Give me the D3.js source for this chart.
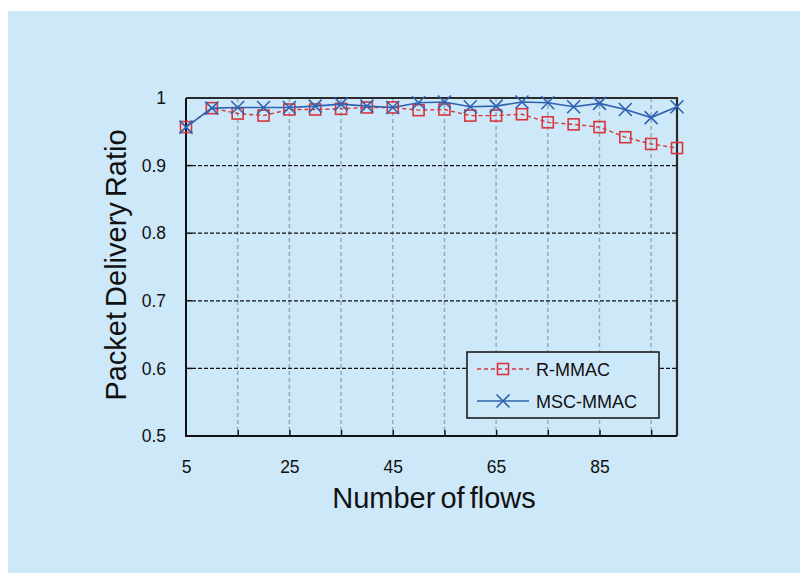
<!DOCTYPE html>
<html>
<head>
<meta charset="utf-8">
<script src="https://cdn.jsdelivr.net/npm/d3@7"></script>
<style>
	html, body { margin: 0; padding: 0; background: #ffffff; }
	svg { display: block; font-family: "Liberation Sans", Arial, sans-serif; }
</style>
</head>
<body>
<div id="chart"></div>
<script>
// ── Data ─────────────────────────────────────────────────────────────────
const flows = [5, 10, 15, 20, 25, 30, 35, 40, 45, 50, 55, 60, 65, 70, 75, 80, 85, 90, 95, 100];
const rMmac = [0.957, 0.985, 0.977, 0.974, 0.983, 0.983, 0.984, 0.986, 0.986, 0.982,
	0.983, 0.974, 0.974, 0.976, 0.964, 0.961, 0.957, 0.942, 0.932, 0.926];
const mscMmac = [0.957, 0.985, 0.986, 0.986, 0.986, 0.988, 0.991, 0.988, 0.986, 0.993,
	0.994, 0.987, 0.988, 0.994, 0.993, 0.987, 0.992, 0.983, 0.971, 0.987];
const seriesNames = ['R-MMAC', 'MSC-MMAC'];
const xTickValues = [15, 25, 35, 45, 55, 65, 75, 85, 95];
const xLabelValues = [5, 25, 45, 65, 85];
const yTickValues = [0.5, 0.6, 0.7, 0.8, 0.9, 1];

// ── Layout ───────────────────────────────────────────────────────────────
const WIDTH = 800;
const HEIGHT = 573;
const PLOT = {left: 186, right: 677, top: 98, bottom: 436};
const RED = '#d8363c';
const BLUE = '#2f63b2';

const svg = d3.select('#chart')
	.append('svg')
	.attr('width', WIDTH)
	.attr('height', HEIGHT);

// light blue panel
svg.append('rect')
	.attr('x', 8).attr('y', 11)
	.attr('width', WIDTH - 8).attr('height', HEIGHT - 11)
	.attr('fill', '#cde8f8');

const xScale = d3.scaleLinear().domain([5, 100]).range([PLOT.left, PLOT.right]);
const yScale = d3.scaleLinear().domain([0.5, 1]).range([PLOT.bottom, PLOT.top]);

// ── Grid ─────────────────────────────────────────────────────────────────
svg.append('g')
	.selectAll('line')
	.data(xTickValues)
	.join('line')
	.attr('x1', (d) => xScale(d)).attr('x2', (d) => xScale(d))
	.attr('y1', PLOT.top).attr('y2', PLOT.bottom - 6)
	.attr('stroke', '#9aaab4')
	.attr('stroke-width', 1.5)
	.attr('stroke-dasharray', '4,3');

svg.append('g')
	.selectAll('line')
	.data(yTickValues.filter((d) => d > 0.5 && d < 1))
	.join('line')
	.attr('x1', PLOT.left + 6).attr('x2', PLOT.right)
	.attr('y1', (d) => yScale(d)).attr('y2', (d) => yScale(d))
	.attr('stroke', '#111')
	.attr('stroke-width', 1.3)
	.attr('stroke-dasharray', '4,2');

// ── Axes ─────────────────────────────────────────────────────────────────
const xAxis = d3.axisBottom(xScale)
	.tickValues(xTickValues)
	.tickSize(-6)
	.tickFormat('');
svg.append('g')
	.attr('transform', `translate(0, ${PLOT.bottom})`)
	.call(xAxis)
	.call((g) => g.select('.domain').remove())
	.call((g) => g.selectAll('.tick line').attr('stroke', '#111').attr('stroke-width', 1.5));

const xLabels = d3.axisBottom(xScale)
	.tickValues(xLabelValues)
	.tickSize(0)
	.tickPadding(25)
	.tickFormat(d3.format('d'));
svg.append('g')
	.attr('transform', `translate(0, ${PLOT.bottom})`)
	.call(xLabels)
	.call((g) => g.select('.domain').remove())
	.call((g) => g.selectAll('text').attr('font-size', 17.5).attr('fill', '#111').attr('font-family', null));

const yAxis = d3.axisLeft(yScale)
	.tickValues(yTickValues)
	.tickSize(0)
	.tickPadding(20)
	.tickFormat((d) => (d === 1 ? '1' : d3.format('.1f')(d)));
svg.append('g')
	.attr('transform', `translate(${PLOT.left}, 0)`)
	.call(yAxis)
	.call((g) => g.select('.domain').remove())
	.call((g) => g.selectAll('text').attr('font-size', 17.5).attr('fill', '#111').attr('font-family', null));

svg.append('g')
	.selectAll('line')
	.data(yTickValues.filter((d) => d > 0.5 && d < 1))
	.join('line')
	.attr('x1', PLOT.left).attr('x2', PLOT.left + 6)
	.attr('y1', (d) => yScale(d)).attr('y2', (d) => yScale(d))
	.attr('stroke', '#111')
	.attr('stroke-width', 1.5);

// frame: left and bottom black, top and right dark
svg.append('path')
	.attr('d', `M${PLOT.left},${PLOT.top}V${PLOT.bottom}H${PLOT.right}`)
	.attr('fill', 'none').attr('stroke', '#111').attr('stroke-width', 2);
svg.append('path')
	.attr('d', `M${PLOT.left},${PLOT.top}H${PLOT.right}V${PLOT.bottom}`)
	.attr('fill', 'none').attr('stroke', '#2a2a2a').attr('stroke-width', 2.2);

// ── Axis titles ──────────────────────────────────────────────────────────
svg.append('text')
	.attr('x', 434)
	.attr('y', 508)
	.attr('text-anchor', 'middle')
	.attr('font-size', 29)
	.attr('word-spacing', -3)
	.attr('fill', '#111')
	.text('Number of flows');

svg.append('text')
	.attr('transform', `translate(126, 265) rotate(-90)`)
	.attr('text-anchor', 'middle')
	.attr('font-size', 29)
	.attr('word-spacing', -3)
	.attr('fill', '#111')
	.text('Packet Delivery Ratio');

// ── Series ───────────────────────────────────────────────────────────────
const line = d3.line()
	.x((d) => xScale(d[0]))
	.y((d) => yScale(d[1]));

const redPoints = flows.map((f, i) => [f, rMmac[i]]);
const bluePoints = flows.map((f, i) => [f, mscMmac[i]]);

svg.append('path')
	.datum(redPoints)
	.attr('d', line)
	.attr('fill', 'none')
	.attr('stroke', RED)
	.attr('stroke-width', 1.4)
	.attr('stroke-dasharray', '4,3');

svg.append('g')
	.selectAll('rect')
	.data(redPoints)
	.join('rect')
	.attr('x', (d) => xScale(d[0]) - 5.5)
	.attr('y', (d) => yScale(d[1]) - 5.5)
	.attr('width', 11).attr('height', 11)
	.attr('fill', 'none')
	.attr('stroke', RED)
	.attr('stroke-width', 1.6);

svg.append('path')
	.datum(bluePoints)
	.attr('d', line)
	.attr('fill', 'none')
	.attr('stroke', BLUE)
	.attr('stroke-width', 1.6);

const crossPath = (cx, cy, r) => `M${cx - r},${cy - r}L${cx + r},${cy + r}M${cx - r},${cy + r}L${cx + r},${cy - r}`;

svg.append('g')
	.selectAll('path')
	.data(bluePoints)
	.join('path')
	.attr('d', (d) => crossPath(xScale(d[0]), yScale(d[1]), 6.5))
	.attr('fill', 'none')
	.attr('stroke', BLUE)
	.attr('stroke-width', 1.6);

// ── Legend ───────────────────────────────────────────────────────────────
const legend = svg.append('g').attr('transform', 'translate(467, 352)');
legend.append('rect')
	.attr('width', 192).attr('height', 66)
	.attr('fill', '#cde8f8')
	.attr('stroke', '#111')
	.attr('stroke-width', 1.5);

seriesNames.forEach((name, i) =>
{
	const rowY = 17 + i * 32;
	const isRed = i === 0;
	legend.append('line')
		.attr('x1', 10).attr('x2', 62)
		.attr('y1', rowY).attr('y2', rowY)
		.attr('stroke', isRed ? RED : BLUE)
		.attr('stroke-width', isRed ? 1.4 : 1.6)
		.attr('stroke-dasharray', isRed ? '4,3' : null);
	if(isRed)
	{
		legend.append('rect')
			.attr('x', 36 - 5.5).attr('y', rowY - 5.5)
			.attr('width', 11).attr('height', 11)
			.attr('fill', 'none').attr('stroke', RED).attr('stroke-width', 1.6);
	}
	else
	{
		legend.append('path')
			.attr('d', crossPath(36, rowY, 6.5))
			.attr('fill', 'none').attr('stroke', BLUE).attr('stroke-width', 1.6);
	}
	legend.append('text')
		.attr('x', 69).attr('y', rowY + 6.5)
		.attr('font-size', 18)
		.attr('fill', '#111')
		.text(name);
});
</script>
</body>
</html>
